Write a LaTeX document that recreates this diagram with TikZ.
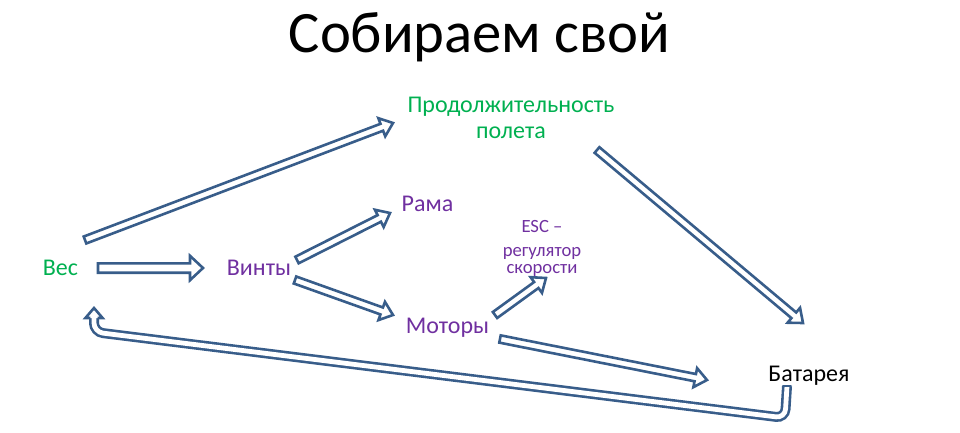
\documentclass[tikz,border=0pt]{standalone}
\usepackage{fontspec}
\setmainfont{Carlito}
\usetikzlibrary{calc}

\definecolor{arrowblue}{RGB}{56,93,138}
\definecolor{textgreen}{RGB}{0,176,80}
\definecolor{textpurple}{RGB}{112,48,160}

\begin{document}
\begin{tikzpicture}[x=1pt,y=-1pt]

\tikzset{every node/.style = {inner sep=0pt, anchor=base, font=\fontsize{24}{25}\selectfont}}
\tikzset{ba shaft/.store in=\baShaft, ba head/.store in=\baHead, ba len/.store in=\baLen,
         ba shaft=3.7pt, ba head=9.7pt, ba len=12pt}
\tikzstyle{green_label}  = [text=textgreen]
\tikzstyle{purple_label} = [text=textpurple]
\tikzstyle{blockarrow}   = [draw=arrowblue, fill=white, line width=2.6pt, line join=miter,
  to path={let \p1=(\tikztostart), \p2=(\tikztotarget), \p3=($(\tikztotarget)!\baLen!(\tikztostart)$) in
    ($(\p1)!\baShaft!90:(\p2)$) -- ($(\p3)!\baShaft!90:(\p2)$) -- ($(\p3)!\baHead!90:(\p2)$) -- (\p2)
    -- ($(\p3)!\baHead!-90:(\p2)$) -- ($(\p3)!\baShaft!-90:(\p2)$) -- ($(\p1)!\baShaft!-90:(\p2)$) -- cycle}]
\tikzstyle{uarrow}       = [draw=arrowblue, line width=2.6pt, double=white, double distance=4.8pt, rounded corners=9pt]

\useasboundingbox (0,0) rectangle (960,433);

\node[font=\fontsize{58.67}{70}\selectfont]           (title)  at (479.5,53) {Собираем свой};
\node[green_label, align=center]                      (prod)   at (511,138)  {Продолжительность\\полета};
\node[green_label]                                    (ves)    at (60.5,275) {Вес};
\node[purple_label]                                   (vinty)  at (259,275)  {Винты};
\node[purple_label]                                   (rama)   at (427.5,211){Рама};
\node[purple_label]                                   (motory) at (447.5,333){Моторы};
\node[purple_label, align=center,
      font=\fontsize{18.67}{17}\selectfont]           (esc)    at (542,273)  {ESC –\\[7pt]регулятор\\скорости};
\node                                                 (bat)    at (809,381)  {Батарея};

\draw[blockarrow]                                         ($(ves.base)+(24.5,-35)$)    to ($(prod.base)+(-118,-15)$);
\draw[blockarrow, ba shaft=4.7pt, ba head=12.2pt, ba len=13pt] ($(ves.base)+(37.5,-7)$)  to ($(vinty.base)+(-56,-7)$);
\draw[blockarrow]                                         ($(vinty.base)+(38,-15)$)    to ($(rama.base)+(-37.5,2)$);
\draw[blockarrow]                                         ($(vinty.base)+(36,5)$)      to ($(motory.base)+(-54.5,-18)$);
\draw[blockarrow]                                         ($(motory.base)+(47.5,-18)$) to ($(esc.base)+(4,5)$);
\draw[blockarrow]                                         ($(prod.base)+(86,12)$)      to ($(bat.base)+(-6,-58)$);
\draw[blockarrow]                                         ($(motory.base)+(52.5,6)$)   to ($(bat.base)+(-102,-1)$);

% bent arrow back from the battery to the weight
\draw[uarrow] ($(bat.base)+(-22,5)$) -- ++(-2,32) -- ($(ves.base)+(33.5,57)$) -- ($(ves.base)+(33.5,43)$);
\draw[arrowblue, line width=2.6pt, line cap=round] ($(bat.base)+(-25.7,5)$) -- ++(7.4,0);
\draw[arrowblue, fill=white, line width=2.6pt, line join=miter]
  ($(ves.base)+(29.8,43)$) -- ++(-4.9,0) -- ++(8.6,-10) -- ++(8.6,10) -- ++(-4.9,0);

\end{tikzpicture}
\end{document}
